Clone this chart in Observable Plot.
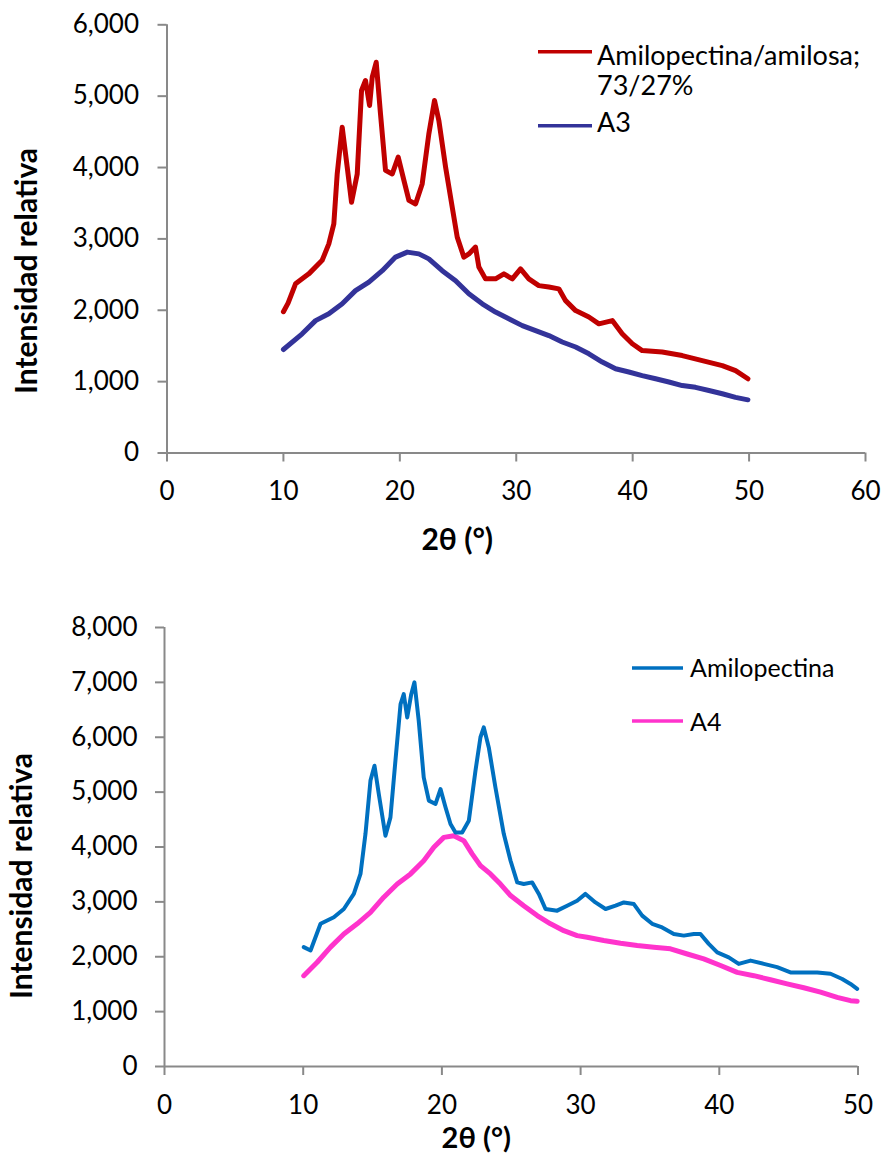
<!DOCTYPE html>
<html><head><meta charset="utf-8">
<script src="https://cdn.jsdelivr.net/npm/d3@7"></script>
<script src="https://cdn.jsdelivr.net/npm/@observablehq/plot@0.6"></script>
<style>
html,body{margin:0;padding:0;background:#fff;overflow:hidden;}
#wrap{position:relative;width:883px;height:1161px;font-family:Lato,sans-serif;}
#topChart,#bottomChart{position:absolute;left:0;}
#topChart{top:0}
#bottomChart{top:580px}
#legend{position:absolute;left:0;top:0;pointer-events:none;}
</style></head><body>
<div id="wrap"><div id="topChart"></div><div id="bottomChart"></div>
<svg id="legend" width="883" height="1161" font-family="Lato, sans-serif" fill="#000"></svg></div>
<script>
// ---- Top chart data ----
const topXTicks = [0, 10, 20, 30, 40, 50, 60];
const topYTicks = [0, 1000, 2000, 3000, 4000, 5000, 6000];
const redName = "Amilopectina/amilosa; 73/27%";
const redAngle = [10.0, 10.4, 11.04, 12.18, 13.33, 13.9, 14.33, 14.62, 15.05, 15.48, 15.85, 16.34, 16.71, 17.05, 17.4, 17.63, 17.97, 18.34, 18.77, 19.35, 19.86, 20.35, 20.78, 21.35, 21.92, 22.49, 22.98, 23.35, 23.93, 24.5, 24.93, 25.5, 25.93, 26.5, 26.79, 27.36, 28.22, 28.94, 29.66, 30.37, 31.08, 31.94, 32.8, 33.66, 34.24, 35.1, 36.24, 37.1, 38.25, 39.1, 39.97, 40.82, 42.54, 44.26, 45.98, 47.7, 48.84, 49.9];
const redInt = [1980, 2100, 2370, 2510, 2700, 2930, 3210, 3910, 4565, 4005, 3515, 3910, 5080, 5220, 4870, 5265, 5475, 4750, 3960, 3910, 4145, 3820, 3540, 3490, 3770, 4470, 4940, 4660, 4005, 3445, 3025, 2745, 2790, 2885, 2605, 2440, 2440, 2510, 2440, 2580, 2440, 2345, 2325, 2300, 2135, 1995, 1905, 1810, 1855, 1670, 1530, 1435, 1415, 1365, 1295, 1225, 1155, 1040];
const a3Name = "A3";
const a3Angle = [10.0, 11.61, 12.76, 13.9, 15.05, 16.19, 17.34, 18.49, 19.63, 20.64, 21.63, 22.49, 23.64, 24.79, 25.93, 27.08, 28.22, 29.36, 30.52, 31.66, 32.8, 33.95, 35.1, 36.24, 37.39, 38.53, 39.67, 40.82, 41.97, 43.11, 44.26, 45.4, 46.55, 47.7, 48.84, 49.9];
const a3Int = [1450, 1670, 1855, 1950, 2090, 2275, 2395, 2555, 2745, 2815, 2790, 2720, 2555, 2415, 2230, 2090, 1975, 1880, 1785, 1715, 1645, 1555, 1485, 1390, 1275, 1180, 1135, 1085, 1040, 995, 945, 920, 875, 830, 780, 745];

// ---- Bottom chart data ----
const botXTicks = [0, 10, 20, 30, 40, 50];
const botYTicks = [0, 1000, 2000, 3000, 4000, 5000, 6000, 7000, 8000];
const amiName = "Amilopectina";
const amiAngle = [10.04, 10.53, 11.25, 12.21, 12.93, 13.65, 14.13, 14.49, 14.85, 15.14, 15.45, 15.93, 16.29, 16.65, 17.02, 17.25, 17.5, 17.79, 18.02, 18.33, 18.69, 19.06, 19.54, 19.9, 20.26, 20.62, 20.98, 21.46, 21.94, 22.42, 22.78, 23.02, 23.38, 23.86, 24.46, 24.95, 25.43, 25.9, 26.51, 26.99, 27.47, 28.31, 29.03, 29.75, 30.35, 31.07, 31.8, 32.52, 33.12, 33.84, 34.44, 35.16, 35.88, 36.72, 37.44, 38.16, 38.64, 39.24, 39.85, 40.68, 41.4, 42.25, 43.21, 44.17, 45.13, 46.09, 47.06, 48.02, 48.86, 49.46, 49.94];
const amiInt = [2175, 2115, 2600, 2720, 2870, 3145, 3510, 4240, 5210, 5480, 4965, 4205, 4540, 5575, 6605, 6785, 6360, 6785, 7000, 6300, 5270, 4845, 4785, 5055, 4725, 4420, 4265, 4265, 4480, 5390, 6000, 6180, 5815, 5085, 4240, 3750, 3355, 3325, 3355, 3145, 2870, 2840, 2930, 3020, 3145, 2990, 2870, 2930, 2990, 2960, 2750, 2600, 2535, 2415, 2385, 2415, 2415, 2235, 2080, 1990, 1870, 1930, 1870, 1810, 1715, 1715, 1715, 1690, 1595, 1505, 1415];
const a4Name = "A4";
const a4Angle = [10.04, 11.01, 11.97, 12.93, 13.89, 14.85, 15.81, 16.78, 17.74, 18.69, 19.42, 20.14, 20.86, 21.58, 22.18, 22.78, 23.5, 24.22, 24.95, 25.9, 26.87, 27.83, 28.79, 29.75, 30.47, 31.67, 32.88, 34.08, 35.28, 36.48, 37.69, 38.88, 40.09, 41.29, 42.49, 43.69, 44.89, 46.09, 47.3, 48.5, 49.46, 49.94];
const a4Int = [1655, 1900, 2175, 2415, 2600, 2810, 3085, 3325, 3510, 3750, 3995, 4175, 4205, 4115, 3875, 3660, 3510, 3325, 3115, 2930, 2750, 2600, 2475, 2385, 2355, 2295, 2245, 2205, 2175, 2145, 2050, 1960, 1840, 1715, 1655, 1580, 1505, 1435, 1355, 1260, 1200, 1190];

const yTitle = "Intensidad relativa";
const xTitle = "2θ (°)";

const colors = {red: "#C00000", a3: "#333399", ami: "#0070C0", a4: "#FF33CC"};
const axisGray = "#898989";
const fmt = d3.format(",");
const zip = (xs, ys) => xs.map((x, i) => ({t: x, i: ys[i]}));

function axes(xTicks, yTicks, xPad, yPad) {
  return [
    Plot.ruleX([0], {stroke: axisGray, strokeWidth: 2}),
    Plot.ruleY([0], {stroke: axisGray, strokeWidth: 2}),
    Plot.axisY({ticks: yTicks, tickFormat: fmt, tickSize: 9, tickPadding: yPad, stroke: axisGray, strokeWidth: 2, fill: "#000", label: null}),
    Plot.axisX({ticks: xTicks, tickFormat: d => String(d), tickSize: 9, tickPadding: xPad, stroke: axisGray, strokeWidth: 2, fill: "#000", label: null})
  ];
}

const plotStyle = {fontFamily: "Lato, sans-serif", fontSize: "26px", color: "#000", background: "transparent", overflow: "visible"};

const topPlot = Plot.plot({
  width: 883, height: 580,
  marginLeft: 166.5, marginRight: 18, marginTop: 24.3, marginBottom: 127.5,
  style: plotStyle,
  x: {domain: [0, 60]},
  y: {domain: [0, 6000]},
  marks: [
    ...axes(topXTicks, topYTicks, 20, 19),
    Plot.line(zip(a3Angle, a3Int), {x: "t", y: "i", stroke: colors.a3, strokeWidth: 5, strokeLinejoin: "round"}),
    Plot.line(zip(redAngle, redInt), {x: "t", y: "i", stroke: colors.red, strokeWidth: 5, strokeLinejoin: "round"}),
    Plot.text([yTitle], {text: d => d, frameAnchor: "left", textAnchor: "middle", rotate: -90, dx: -140, dy: 32, fontWeight: "bold", fontSize: 30}),
    Plot.text([xTitle], {text: d => d, frameAnchor: "bottom", textAnchor: "middle", dx: -59, dy: 97, fontWeight: "bold", fontSize: 30})
  ]
});
document.getElementById("topChart").appendChild(topPlot);

const bottomPlot = Plot.plot({
  width: 883, height: 581,
  marginLeft: 164, marginRight: 25.5, marginTop: 47, marginBottom: 95,
  style: plotStyle,
  x: {domain: [0, 50]},
  y: {domain: [0, 8000]},
  marks: [
    ...axes(botXTicks, botYTicks, 20, 18),
    Plot.line(zip(a4Angle, a4Int), {x: "t", y: "i", stroke: colors.a4, strokeWidth: 5, strokeLinejoin: "round"}),
    Plot.line(zip(amiAngle, amiInt), {x: "t", y: "i", stroke: colors.ami, strokeWidth: 4, strokeLinejoin: "round"}),
    Plot.text([yTitle], {text: d => d, frameAnchor: "left", textAnchor: "middle", rotate: -90, dx: -142, dy: 29, fontWeight: "bold", fontSize: 30}),
    Plot.text([xTitle], {text: d => d, frameAnchor: "bottom", textAnchor: "middle", dx: -35, dy: 81, fontWeight: "bold", fontSize: 29})
  ]
});
document.getElementById("bottomChart").appendChild(bottomPlot);

// ---- Legends ----
const lg = d3.select("#legend");
function legendItem(x1, x2, ly, color, lines, tx, baselines, size) {
  lg.append("line").attr("x1", x1).attr("x2", x2).attr("y1", ly).attr("y2", ly)
    .attr("stroke", color).attr("stroke-width", 3.5);
  lines.forEach((s, k) => lg.append("text").attr("x", tx).attr("y", baselines[k]).attr("font-size", size).text(s));
}
const redParts = redName.split(" ");
legendItem(538, 592, 51.7, colors.red, [redParts[0], redParts[1]], 597, [65, 95], 27);
legendItem(538, 592, 125.7, colors.a3, [a3Name], 597, [131.7], 27);
legendItem(632, 683, 668, colors.ami, [amiName], 690, [677], 25);
legendItem(632, 683, 721, colors.a4, [a4Name], 690, [731], 25);
</script>
</body></html>
